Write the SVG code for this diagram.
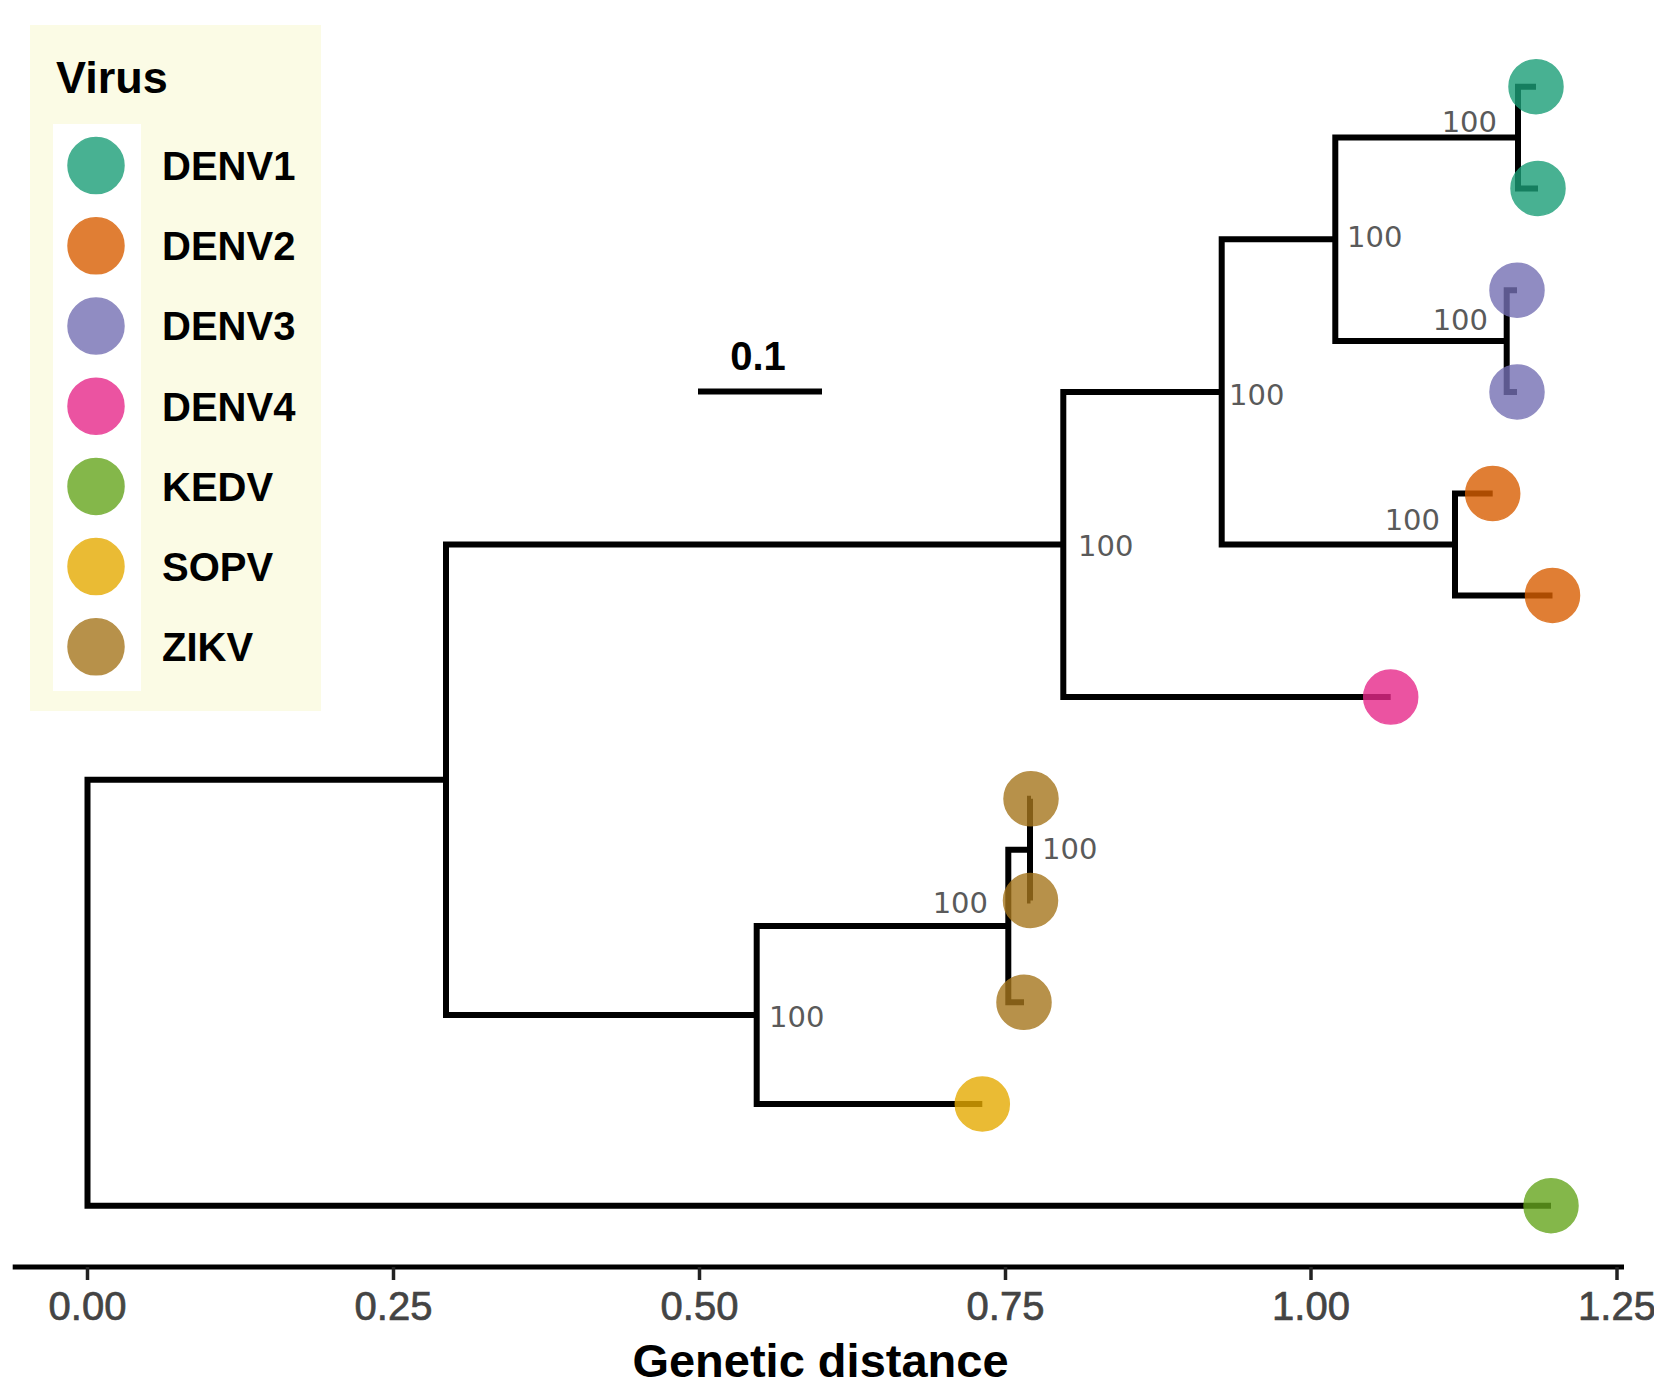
<svg xmlns="http://www.w3.org/2000/svg" width="1654" height="1391" viewBox="0 0 1654 1391">
<style>
.edge{fill:none;stroke:#000;stroke-width:6;stroke-linejoin:miter;stroke-linecap:butt}
.tip{opacity:0.8;stroke-width:1.5}
.boot{font-family:"DejaVu Sans",sans-serif;font-size:29px;fill:#5a5a5a}
.leg{font-family:"Liberation Sans",Arial,sans-serif;font-size:40px;font-weight:bold;fill:#000}
.tick{font-family:"Liberation Sans",Arial,sans-serif;font-size:40px;fill:#444;stroke:#444;stroke-width:0.7;text-anchor:middle}
.d1{fill:#1B9E77;stroke:#1B9E77}.d2{fill:#D95F02;stroke:#D95F02}.d3{fill:#7570B3;stroke:#7570B3}
.d4{fill:#E7298A;stroke:#E7298A}.ke{fill:#66A61E;stroke:#66A61E}.so{fill:#E6AB02;stroke:#E6AB02}.zi{fill:#A6761D;stroke:#A6761D}
</style>
<rect x="0" y="0" width="1654" height="1391" fill="#fff"/>
<g id="legend">
<rect x="30" y="25" width="291" height="686" fill="#FBFBE5"/>
<rect x="53" y="124" width="88" height="567" fill="#fff"/>
<text x="56" y="93" font-family="Liberation Sans, Arial, sans-serif" font-size="45" font-weight="bold">Virus</text>
<circle class="tip d1" cx="96" cy="165.6" r="28"/>
<circle class="tip d2" cx="96" cy="245.8" r="28"/>
<circle class="tip d3" cx="96" cy="326" r="28"/>
<circle class="tip d4" cx="96" cy="406.2" r="28"/>
<circle class="tip ke" cx="96" cy="486.4" r="28"/>
<circle class="tip so" cx="96" cy="566.6" r="28"/>
<circle class="tip zi" cx="96" cy="646.8" r="28"/>
<text class="leg" x="162" y="180">DENV1</text>
<text class="leg" x="162" y="260.2">DENV2</text>
<text class="leg" x="162" y="340.4">DENV3</text>
<text class="leg" x="162" y="420.6">DENV4</text>
<text class="leg" x="162" y="500.8">KEDV</text>
<text class="leg" x="162" y="581">SOPV</text>
<text class="leg" x="162" y="661.2">ZIKV</text>
</g>
<g id="scalebar">
<text x="758" y="370" font-family="Liberation Sans, Arial, sans-serif" font-size="40" font-weight="bold" text-anchor="middle">0.1</text>
<line x1="698" y1="391.5" x2="822" y2="391.5" stroke="#000" stroke-width="6"/>
</g>
<g id="connectors">
<path class="edge" d="M446 779.8 H87.5 V1205.7 H1551"/>
<path class="edge" d="M1063.3 544.5 H446 V1015 H756.7"/>
<path class="edge" d="M1221.7 391.9 H1063.3 V697.1 H1390.7"/>
<path class="edge" d="M1335.3 239.3 H1221.7 V544.5 H1455"/>
<path class="edge" d="M1518 137.6 H1335.3 V341 H1506.7"/>
<path class="edge" d="M1536 86.7 H1518 V188.4 H1538"/>
<path class="edge" d="M1517 290.2 H1506.7 V391.9 H1517"/>
<path class="edge" d="M1492.7 493.6 H1455 V595.4 H1552.5"/>
<path class="edge" d="M1008.3 926 H756.7 V1104 H982.3"/>
<path class="edge" d="M1030 849.7 H1008.3 V1002.3 H1024"/>
<path class="edge" d="M1031 798.8 H1030 V900.5 H1030.5"/>
</g>
<g id="tips">
<g id="tip-denv1-a"><circle class="tip d1" cx="1536" cy="86.7" r="27"/></g>
<g id="tip-denv1-b"><circle class="tip d1" cx="1538" cy="188.4" r="27"/></g>
<g id="tip-denv3-a"><circle class="tip d3" cx="1517" cy="290.2" r="27"/></g>
<g id="tip-denv3-b"><circle class="tip d3" cx="1517" cy="391.9" r="27"/></g>
<g id="tip-denv2-a"><circle class="tip d2" cx="1492.7" cy="493.6" r="27"/></g>
<g id="tip-denv2-b"><circle class="tip d2" cx="1552.5" cy="595.4" r="27"/></g>
<g id="tip-denv4"><circle class="tip d4" cx="1390.7" cy="697.1" r="27"/></g>
<g id="tip-zikv-a"><circle class="tip zi" cx="1031" cy="798.8" r="27"/></g>
<g id="tip-zikv-b"><circle class="tip zi" cx="1030.5" cy="900.5" r="27"/></g>
<g id="tip-zikv-c"><circle class="tip zi" cx="1024" cy="1002.3" r="27"/></g>
<g id="tip-sopv"><circle class="tip so" cx="982.3" cy="1104" r="27"/></g>
<g id="tip-kedv"><circle class="tip ke" cx="1551" cy="1205.7" r="27"/></g>
</g>
<g id="bootstrap">
<text class="boot" x="1497" y="131.6" text-anchor="end">100</text>
<text class="boot" x="1347" y="247">100</text>
<text class="boot" x="1488" y="330" text-anchor="end">100</text>
<text class="boot" x="1229" y="405">100</text>
<text class="boot" x="1440" y="530" text-anchor="end">100</text>
<text class="boot" x="1078" y="556">100</text>
<text class="boot" x="1042" y="859">100</text>
<text class="boot" x="988" y="913" text-anchor="end">100</text>
<text class="boot" x="769" y="1026.7">100</text>
</g>
<g id="axis">
<line x1="12.7" y1="1267" x2="1624" y2="1267" stroke="#000" stroke-width="5"/>
<g stroke="#222" stroke-width="3.5">
<line x1="87.5" y1="1267" x2="87.5" y2="1280"/>
<line x1="393.5" y1="1267" x2="393.5" y2="1280"/>
<line x1="699.5" y1="1267" x2="699.5" y2="1280"/>
<line x1="1005.5" y1="1267" x2="1005.5" y2="1280"/>
<line x1="1311" y1="1267" x2="1311" y2="1280"/>
<line x1="1617" y1="1267" x2="1617" y2="1280"/>
</g>
<text class="tick" x="87.5" y="1320">0.00</text>
<text class="tick" x="393.5" y="1320">0.25</text>
<text class="tick" x="699.5" y="1320">0.50</text>
<text class="tick" x="1005.5" y="1320">0.75</text>
<text class="tick" x="1311" y="1320">1.00</text>
<text class="tick" x="1617" y="1320">1.25</text>
<text x="820.5" y="1376.7" font-family="Liberation Sans, Arial, sans-serif" font-size="47" font-weight="bold" text-anchor="middle">Genetic distance</text>
</g>
</svg>
